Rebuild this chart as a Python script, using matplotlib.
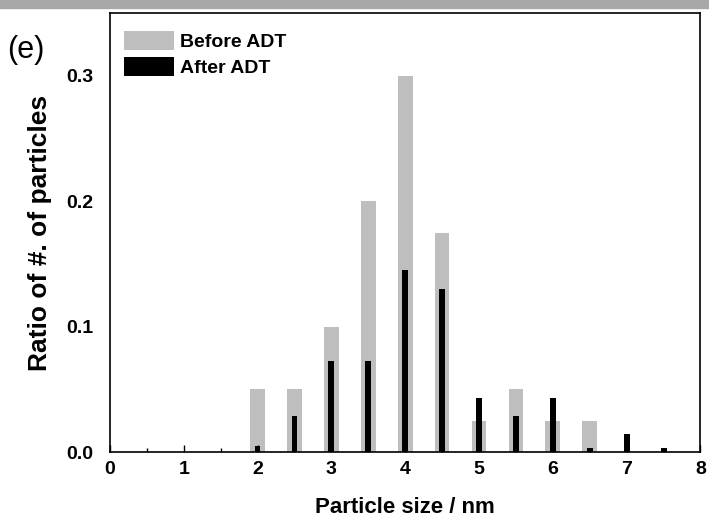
import matplotlib
matplotlib.use('Agg')
import matplotlib.pyplot as plt
from matplotlib.patches import Rectangle
from matplotlib.ticker import MultipleLocator

plt.rcParams['font.family'] = ['Liberation Sans', 'DejaVu Sans']

# particle size bins (nm)
sizes = [2.0, 2.5, 3.0, 3.5, 4.0, 4.5, 5.0, 5.5, 6.0, 6.5, 7.0, 7.5]
before_adt = [0.05, 0.05, 0.1, 0.2, 0.3, 0.175, 0.025, 0.05, 0.025, 0.025, 0.0, 0.0]
after_adt = [0.005, 0.029, 0.0725, 0.0725, 0.145, 0.13, 0.0435, 0.029, 0.0435, 0.003, 0.0145, 0.003]

x_ticks = [0, 1, 2, 3, 4, 5, 6, 7, 8]
y_ticks = [0.0, 0.1, 0.2, 0.3]

fig = plt.figure(figsize=(7.09, 5.24), dpi=100)
ax = fig.add_axes([0.155, 0.137, 0.833, 0.838])

ax.bar(sizes, before_adt, width=0.2, color='#bebebe', label='Before ADT', zorder=1)
ax.bar(sizes, after_adt, width=0.08, color='black', label='After ADT', zorder=2)

ax.set_xlim(0, 8)
ax.set_ylim(0, 0.35)
ax.set_xticks(x_ticks)
ax.set_yticks(y_ticks)
ax.xaxis.set_minor_locator(MultipleLocator(0.5))
ax.set_yticklabels(['%.1f' % v for v in y_ticks])
ax.tick_params(axis='x', which='major', direction='in', length=5, width=1, labelsize=14, pad=6)
ax.tick_params(axis='x', which='minor', direction='in', length=3, width=1)
ax.tick_params(axis='y', which='both', length=0, labelsize=14, pad=12)
for lab in ax.get_xticklabels() + ax.get_yticklabels():
    lab.set_fontweight('bold')
for sp in ax.spines.values():
    sp.set_linewidth(1.2)

ax.set_xlabel('Particle size / nm', fontsize=16, fontweight='bold', labelpad=14)
ax.set_ylabel('Ratio of #. of particles', fontsize=19, fontweight='bold', labelpad=10)

leg = ax.legend(loc='upper left', frameon=False, fontsize=14, handlelength=2.6,
                handleheight=1.1, handletextpad=0.3, labelspacing=0.3,
                borderaxespad=0.3, bbox_to_anchor=(0.0, 0.99))
for t in leg.get_texts():
    t.set_fontweight('bold')

fig.text(0.01, 0.89, '(e)', fontsize=22)

# grey strip at the top of the scanned figure
fig.patches.append(Rectangle((0, 0.985), 1, 0.015, transform=fig.transFigure,
                             color='#a8a8a8', zorder=0))

fig.savefig('out.png', dpi=100)
